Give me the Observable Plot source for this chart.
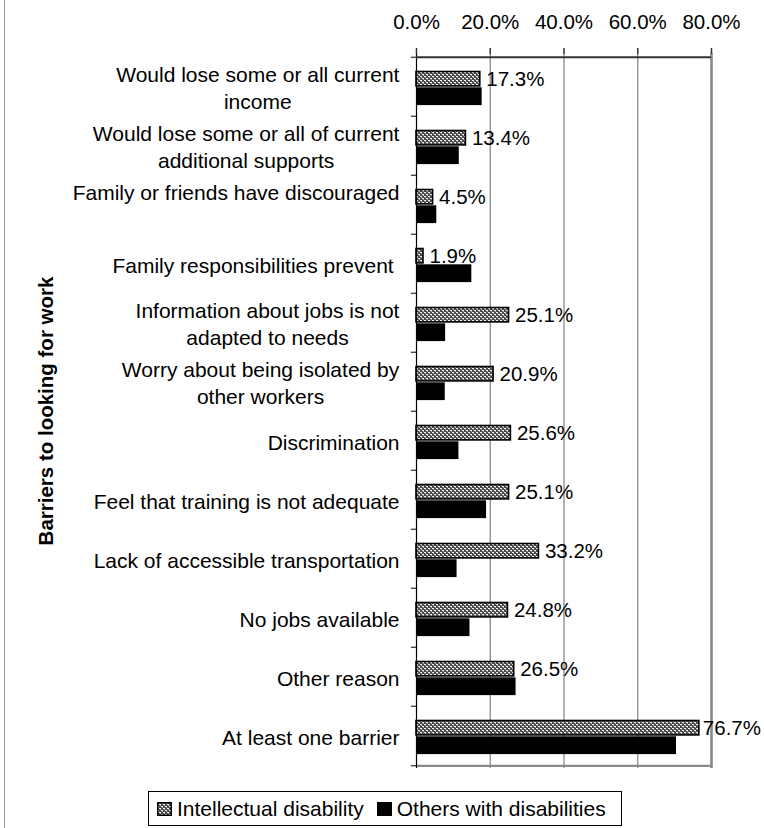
<!DOCTYPE html>
<html><head><meta charset="utf-8">
<script src="https://cdn.jsdelivr.net/npm/d3@7"></script>
<script src="https://cdn.jsdelivr.net/npm/@observablehq/plot@0.6"></script>
<style>
body{margin:0;background:#fff;font-family:"Liberation Sans",Arial,sans-serif;}
#wrap{position:relative;width:764px;height:828px;overflow:hidden;background:#fff;}
#frame{position:absolute;left:4px;top:0;width:1px;height:828px;background:#999;}
#chart{position:absolute;left:0;top:0;}
#legend{position:absolute;left:148px;top:791px;width:472px;height:33px;border:1px solid #000;display:flex;align-items:center;font-size:21px;color:#000;box-sizing:content-box;}
#legend .item{display:inline-flex;align-items:center;margin-left:8px;}
#legend .item svg{margin-right:5px;}
</style></head><body>
<div id="wrap"><div id="frame"></div><div id="chart"></div><div id="legend"></div></div>
<script>
const categories = [
  "Would lose some or all current income",
  "Would lose some or all of current additional supports",
  "Family or friends have discouraged",
  "Family responsibilities prevent",
  "Information about jobs is not adapted to needs",
  "Worry about being isolated by other workers",
  "Discrimination",
  "Feel that training is not adequate",
  "Lack of accessible transportation",
  "No jobs available",
  "Other reason",
  "At least one barrier"
];
const labels = [
  "Would lose some or all current\nincome",
  "Would lose some or all of current\nadditional supports",
  "Family or friends have discouraged\n ",
  "Family responsibilities prevent ",
  "Information about jobs is not\nadapted to needs",
  "Worry about being isolated by\nother workers",
  "Discrimination",
  "Feel that training is not adequate",
  "Lack of accessible transportation",
  "No jobs available",
  "Other reason",
  "At least one barrier"
];
const intellectual = [17.3, 13.4, 4.5, 1.9, 25.1, 20.9, 25.6, 25.1, 33.2, 24.8, 26.5, 76.7];
const others = [17.8, 11.6, 5.5, 15.0, 7.9, 7.8, 11.5, 19.0, 11.0, 14.5, 27.0, 70.5];
const xTicks = [0, 20, 40, 60, 80];
const seriesNames = ["Intellectual disability", "Others with disabilities"];
const yTitle = "Barriers to looking for work";

const rows = categories.map((c, i) => ({category: c, label: labels[i], intellectual: intellectual[i], others: others[i]}));
const fmt = v => v.toFixed(1) + "%";

const W = 764, H = 780, mL = 416, mR = 53, mT = 53, mB = 12;
const bw = (H - mT - mB) / categories.length;

const chart = Plot.plot({
  width: W, height: H,
  marginLeft: mL, marginRight: mR, marginTop: mT, marginBottom: mB,
  style: {fontFamily: "'Liberation Sans', Arial, sans-serif", fontSize: "20.5px", color: "#000", background: "transparent", overflow: "visible"},
  x: {domain: [0, 80], axis: null, label: null},
  y: {domain: categories, padding: 0, axis: null, label: null},
  marks: [
    Plot.ruleX([20, 40, 60], {stroke: "#808080", strokeWidth: 1.2}),
    Plot.ruleX([80], {stroke: "#8a8a8a", strokeWidth: 2.6}),
    Plot.ruleY([categories[categories.length - 1]], {dy: bw / 2, stroke: "#8a8a8a", strokeWidth: 2.2}),
    Plot.barX(rows, {x: "others", y: "category", fill: "#000", insetTop: 30.3, insetBottom: 10.9}),
    Plot.barX(rows, {x: "intellectual", y: "category", fill: "url(#dotsPat)", stroke: "#000", strokeWidth: 1.6, insetTop: 14.5, insetBottom: 30.1}),
    Plot.ruleY(categories, {x1: -1.4, x2: 0, dy: -bw / 2, stroke: "#000", strokeWidth: 1}),
    Plot.ruleY([categories[categories.length - 1]], {x1: -1.4, x2: 0, dy: bw / 2, stroke: "#000", strokeWidth: 1}),
    Plot.ruleX([0], {stroke: "#000", strokeWidth: 1.2}),
    Plot.ruleY([categories[0]], {dy: -bw / 2, stroke: "#333", strokeWidth: 2}),
    Plot.axisX(xTicks, {anchor: "top", label: null, tickSize: 6, tickPadding: 19, stroke: "#333", strokeWidth: 1.5,
      tickFormat: fmt}),
    Plot.text(rows, {x: 0, y: "category", text: "label", textAnchor: "end", dx: -17, fontSize: 21, lineHeight: 1.3, fill: "#000"}),
    Plot.text(rows, {x: "intellectual", y: "category", text: d => fmt(d.intellectual), textAnchor: "start", dx: 6, dy: -8, fontSize: 20.5, fill: "#000"}),
    Plot.text([yTitle], {frameAnchor: "left", textAnchor: "middle", rotate: -90, dx: -370, fontSize: 20.5, fontWeight: "bold", fill: "#000"})
  ]
});

// pattern definition
const svgNS = "http://www.w3.org/2000/svg";
function makePattern(id) {
  const defs = document.createElementNS(svgNS, "defs");
  const p = document.createElementNS(svgNS, "pattern");
  p.setAttribute("id", id);
  p.setAttribute("patternUnits", "userSpaceOnUse");
  p.setAttribute("width", "4");
  p.setAttribute("height", "4");
  const bg = document.createElementNS(svgNS, "rect");
  bg.setAttribute("width", "4"); bg.setAttribute("height", "4"); bg.setAttribute("fill", "#4a4a4a");
  p.appendChild(bg);
  [[0, 0, 2, 1], [2, 2, 2, 1], [1, 1, 1, 1], [3, 3, 1, 1]].forEach(([x, y, w, h], k) => {
    const r = document.createElementNS(svgNS, "rect");
    r.setAttribute("x", x); r.setAttribute("y", y); r.setAttribute("width", w); r.setAttribute("height", h);
    r.setAttribute("fill", k < 2 ? "#f2f2f2" : "#a8a8a8");
    p.appendChild(r);
  });
  defs.appendChild(p);
  return defs;
}
chart.insertBefore(makePattern("dotsPat"), chart.firstChild);
document.getElementById("chart").appendChild(chart);

// center multi-line category labels within their right-aligned block (Excel style)
const labelSet = new Set(labels.map(l => l.replace(/\n/g, "")));
const valueSet = new Set(intellectual.map(fmt));
chart.querySelectorAll("text").forEach(t => {
  const content = t.textContent;
  const spans = t.querySelectorAll("tspan");
  if (spans.length > 1 && labelSet.has(content)) {
    const w = t.getBBox().width;
    t.setAttribute("text-anchor", "middle");
    spans.forEach(s => s.setAttribute("x", -w / 2));
  } else if (valueSet.has(content) && t.getBoundingClientRect().right > 761) {
    const b = t.getBoundingClientRect();
    const cur = +(t.getAttribute("dx") || 0);
    t.setAttribute("dx", cur - (b.right - 761));
  }
});

// legend
const legend = document.getElementById("legend");
const swatchFills = ["url(#legPat)", "#000"];
seriesNames.forEach((name, i) => {
  const item = document.createElement("span");
  item.className = "item";
  if (i === 1) item.style.marginLeft = "13px";
  const s = document.createElementNS(svgNS, "svg");
  s.setAttribute("width", "15"); s.setAttribute("height", "14");
  if (i === 0) s.appendChild(makePattern("legPat"));
  const r = document.createElementNS(svgNS, "rect");
  r.setAttribute("x", "0.75"); r.setAttribute("y", "0.75"); r.setAttribute("width", "13.5"); r.setAttribute("height", "12.5");
  r.setAttribute("fill", swatchFills[i]); r.setAttribute("stroke", "#000"); r.setAttribute("stroke-width", "1.5");
  s.appendChild(r);
  item.appendChild(s);
  const tx = document.createElement("span");
  tx.textContent = name;
  item.appendChild(tx);
  legend.appendChild(item);
});
</script>
</body></html>
